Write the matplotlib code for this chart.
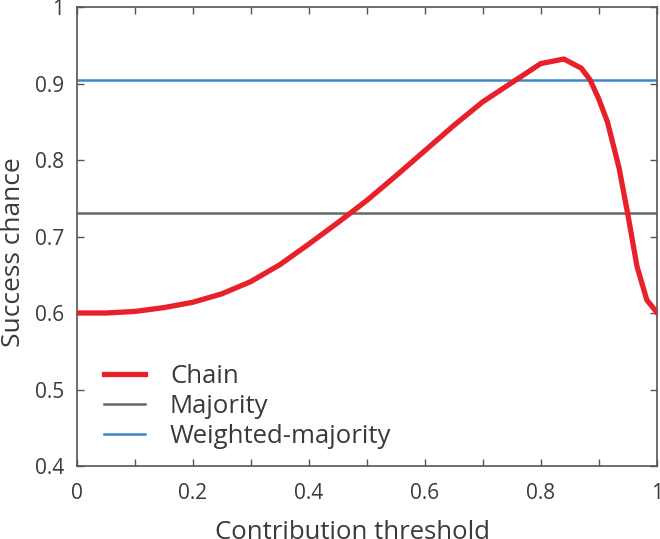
import numpy as np
import matplotlib.pyplot as plt

plt.rcParams['font.family'] = ['Open Sans', 'DejaVu Sans']

# Chain success chance vs contribution threshold
threshold = [0.0, 0.05, 0.1, 0.15, 0.2, 0.25, 0.3, 0.35, 0.4, 0.45, 0.5,
             0.55, 0.6, 0.65, 0.7, 0.75, 0.8, 0.84, 0.87, 0.885, 0.9,
             0.915, 0.935, 0.95, 0.966, 0.983, 1.0]
chain = [0.600, 0.600, 0.602, 0.607, 0.614, 0.625, 0.641, 0.663, 0.690,
         0.718, 0.747, 0.779, 0.812, 0.845, 0.876, 0.901, 0.926, 0.932,
         0.920, 0.905, 0.880, 0.850, 0.790, 0.730, 0.661, 0.617, 0.601]
majority = 0.731
weighted_majority = 0.904

x_ticks = [0, 0.2, 0.4, 0.6, 0.8, 1.0]
x_tick_labels = ['0', '0.2', '0.4', '0.6', '0.8', '1']
x_minor = [0.1, 0.3, 0.5, 0.7, 0.9]
y_ticks = [0.4, 0.5, 0.6, 0.7, 0.8, 0.9, 1.0]
y_tick_labels = ['0.4', '0.5', '0.6', '0.7', '0.8', '0.9', '1']

text_color = '#3a3a3a'
spine_color = '#555555'

fig = plt.figure(figsize=(6.6, 5.39), dpi=100)
ax = fig.add_axes([76.7 / 660, 1 - 466 / 539, 580 / 660, 459 / 539])

ax.plot(threshold, chain, color='#e8202a', linewidth=3.8, label='Chain',
        zorder=3)
ax.axhline(majority, color='#666666', linewidth=1.8, label='Majority')
ax.axhline(weighted_majority, color='#3d87c7', linewidth=1.8,
           label='Weighted-majority')

ax.set_xlim(0, 1)
ax.set_ylim(0.4, 1)
ax.set_xticks(x_ticks)
ax.set_xticklabels(x_tick_labels)
ax.set_xticks(x_minor, minor=True)
ax.set_yticks(y_ticks)
ax.set_yticklabels(y_tick_labels)

ax.tick_params(which='both', direction='in', top=True, right=True,
               length=5, width=1, color=spine_color, labelcolor=text_color,
               labelsize=15)
ax.tick_params(axis='x', which='major', pad=12)
ax.tick_params(axis='y', which='major', pad=9)
for s in ax.spines.values():
    s.set_color(spine_color)
    s.set_linewidth(1.2)

ax.set_xlabel('Contribution threshold', fontsize=18.5, color=text_color)
ax.set_ylabel('Success chance', fontsize=19, color=text_color)
ax.xaxis.set_label_coords(0.476, -0.118)
ax.yaxis.set_label_coords(-0.087, 0.466)

leg = ax.legend(loc='lower left', bbox_to_anchor=(0.03, 0.014), frameon=False,
                fontsize=18.5, handlelength=1.6, handletextpad=0.95,
                labelspacing=0.2, borderaxespad=0)
for t in leg.get_texts():
    t.set_color(text_color)

fig.savefig('out.png', dpi=100)
